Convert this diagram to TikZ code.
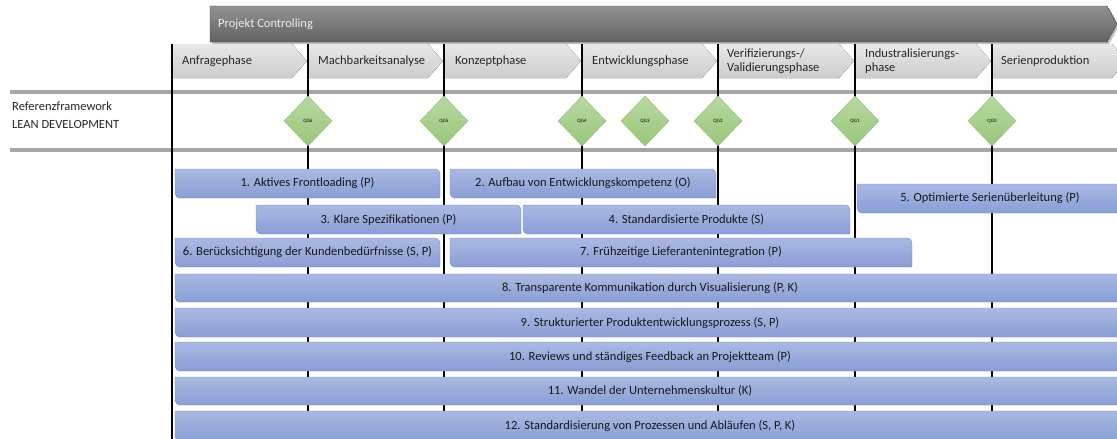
\documentclass[tikz,border=0pt]{standalone}
\usepackage{fontspec}
\setmainfont{Carlito}
\usepackage{tikz}
\usetikzlibrary{shapes.geometric, positioning}
\usepackage{xcolor}
\definecolor{ctrlTop}{RGB}{146,146,146}
\definecolor{ctrlBot}{RGB}{98,98,98}
\definecolor{chevTop}{RGB}{232,232,232}
\definecolor{chevBot}{RGB}{204,204,204}
\definecolor{barTop}{RGB}{170,185,226}
\definecolor{barBot}{RGB}{137,158,213}
\definecolor{barLine}{RGB}{108,135,200}
\definecolor{gateTop}{RGB}{184,217,161}
\definecolor{gateBot}{RGB}{152,199,122}
\definecolor{gateLine}{RGB}{140,190,110}
\tikzset{phase/.style={top color=chevTop, bottom color=chevBot}}
\tikzset{phasetext/.style={anchor=west, text=black!85, align=left, inner sep=0pt}}
\tikzset{vline/.style={line width=2pt, black}}
\tikzset{gate/.style={diamond, draw=gateLine, top color=gateTop, bottom color=gateBot,
			minimum width=48pt, minimum height=50pt, inner sep=0pt, font=\fontsize{5}{6}\selectfont}}
\tikzset{measurebox/.style={draw=barLine, top color=barTop, bottom color=barBot, rounded corners=0.8pt}}
\tikzset{measuretext/.style={text=black!90, inner sep=0pt}}
% round diagonal corner box: left, top, right, bottom, name, text
\newcommand{\measure}[6]{%
	\draw[measurebox] (#1,#2) -- (#3-5,#2) [sharp corners] arc[start angle=90, end angle=0, radius=5pt]
		[rounded corners=0.8pt] -- (#3,#4) -- (#1+5,#4) [sharp corners] arc[start angle=270, end angle=180, radius=5pt] -- cycle;
	\node[measuretext] (#5) at ({(#1+#3)/2},{(#2+#4)/2}) {#6};}

\begin{document}
\begin{tikzpicture}[x=1pt, y=-1pt, font=\fontsize{12.5}{14}\selectfont]
			\useasboundingbox (0,0) rectangle (1117,439);
			% Projekt Controlling
			\fill[black!25] (212,8) -- (1109,8) -- (1119,26) -- (1109,44) -- (212,44) -- cycle;
			\draw[black!75, top color=ctrlTop, bottom color=ctrlBot] (210,6) -- (1107,6) -- (1117,24) -- (1107,42) -- (210,42) -- cycle;
			\node[phasetext, text=black!8] (ctrl) at (218,24) {Projekt Controlling};
			% Phasen
			\fill[phase] (172,44) -- (292,44) -- (307,61) -- (292,78) -- (172,78) -- cycle;
			\node[phasetext] (p1) at (182,61) {Anfragephase};
			\fill[phase] (308,44) -- (428,44) -- (443,61) -- (428,78) -- (308,78) -- cycle;
			\node[phasetext] (p2) at (318,61) {Machbarkeitsanalyse};
			\fill[phase] (444,44) -- (566,44) -- (581,61) -- (566,78) -- (444,78) -- cycle;
			\node[phasetext] (p3) at (455,61) {Konzeptphase};
			\fill[phase] (582,44) -- (702,44) -- (717,61) -- (702,78) -- (582,78) -- cycle;
			\node[phasetext] (p4) at (592,61) {Entwicklungsphase};
			\fill[phase] (718,44) -- (839,44) -- (854,61) -- (839,78) -- (718,78) -- cycle;
			\node[phasetext] (p5) at (727,61) {Verifizierungs-/\\Validierungsphase};
			\fill[phase] (855,44) -- (976,44) -- (991,61) -- (976,78) -- (855,78) -- cycle;
			\node[phasetext] (p6) at (865,61) {Industralisierungs-\\phase};
			\fill[phase] (992,44) -- (1112,44) -- (1127,61) -- (1112,78) -- (992,78) -- cycle;
			\node[phasetext] (p7) at (1001,61) {Serienproduktion};
			% Referenzframework
			\draw[line width=4.5pt, black!35] (10,92) -- (1117,92);
			\draw[line width=4.5pt, black!35] (10,150) -- (1117,150);
			\node[phasetext] (ref) at (12,106) {Referenzframework};
			\node[phasetext] (lean) at (12,124) {LEAN DEVELOPMENT};
			% Phasengrenzen
			\draw[vline, line width=2.6pt] (172,44) -- (172,439);
			\draw[vline] (308,44) -- (308,439);
			\draw[vline] (444,44) -- (444,439);
			\draw[vline] (582,44) -- (582,439);
			\draw[vline, line width=2.8pt] (718,44) -- (718,439);
			\draw[vline] (855,44) -- (855,439);
			\draw[vline] (992,44) -- (992,439);
			% Quality Gates
			\node[gate] (qg6) at (308,121) {QG6};
			\node[gate] (qg5) at (444,121) {QG5};
			\node[gate] (qg4) at (582,121) {QG4};
			\node[gate] (qg3) at (645,121) {QG3};
			\node[gate] (qg2) at (718,121) {QG2};
			\node[gate] (qg1) at (855,121) {QG1};
			\node[gate] (qg0) at (992,121) {QG0};
			% Methoden
			\measure{175}{169}{440}{198}{m1}{1. Aktives Frontloading (P)}
			\measure{450}{169}{716}{198}{m2}{2. Aufbau von Entwicklungskompetenz (O)}
			\measure{857}{184}{1123}{213}{m5}{5. Optimierte Serienüberleitung (P)}
			\measure{256}{205}{521}{234}{m3}{3. Klare Spezifikationen (P)}
			\measure{523}{205}{850}{234}{m4}{4. Standardisierte Produkte (S)}
			\measure{175}{238}{440}{267}{m6}{6. Berücksichtigung der Kundenbedürfnisse (S, P)}
			\measure{450}{238}{912}{267}{m7}{7. Frühzeitige Lieferantenintegration (P)}
			\measure{175}{274}{1125}{302}{m8}{8. Transparente Kommunikation durch Visualisierung (P, K)}
			\measure{175}{308}{1125}{337}{m9}{9. Strukturierter Produktentwicklungsprozess (S, P)}
			\measure{175}{342}{1125}{371}{m10}{10. Reviews und ständiges Feedback an Projektteam (P)}
			\measure{175}{377}{1125}{405}{m11}{11. Wandel der Unternehmenskultur (K)}
			\measure{175}{411}{1125}{441}{m12}{12. Standardisierung von Prozessen und Abläufen (S, P, K)}
		\end{tikzpicture}
\end{document}
